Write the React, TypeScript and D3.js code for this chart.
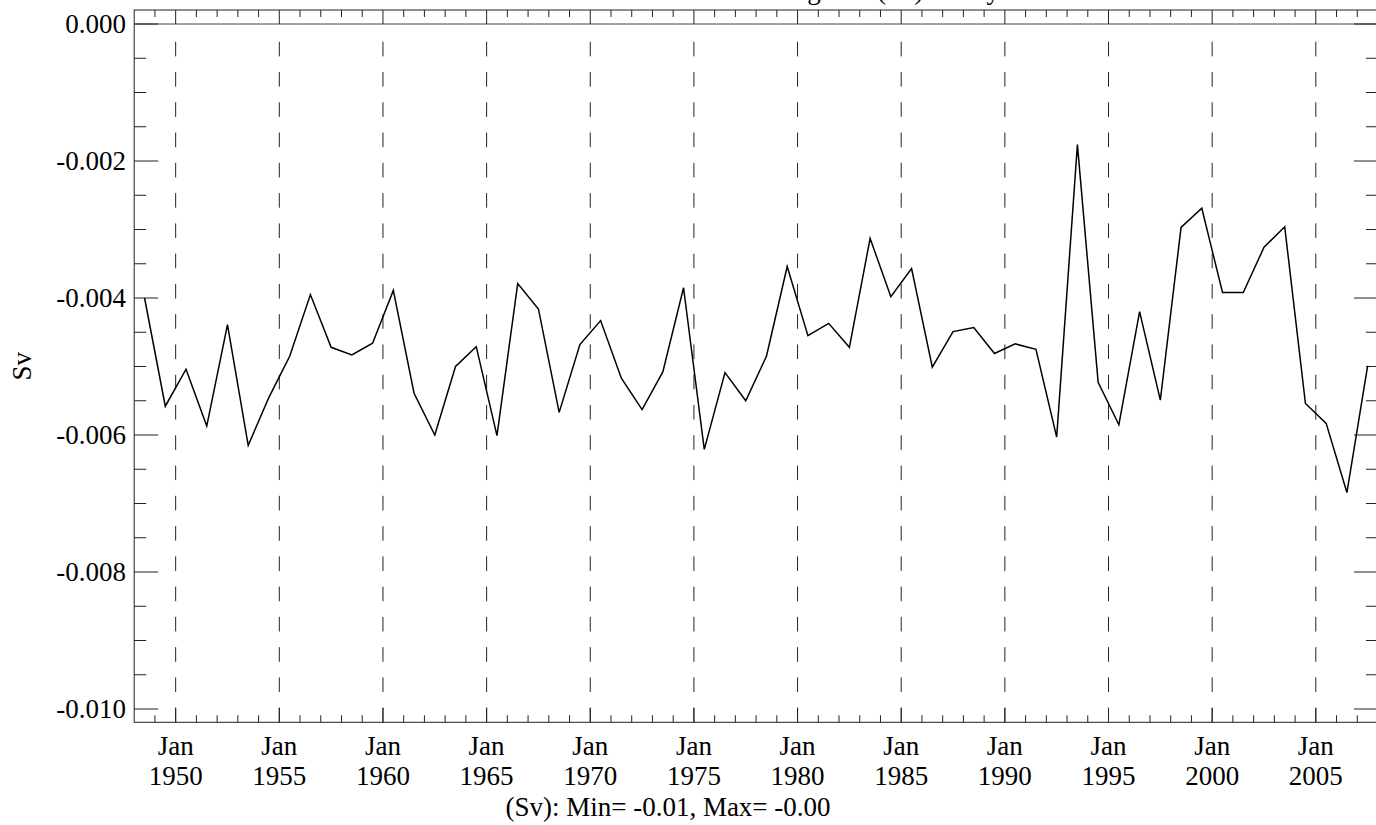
import React from "react";
import * as d3 from "d3";

const years = [
  1948, 1949, 1950, 1951, 1952, 1953, 1954, 1955, 1956, 1957,
  1958, 1959, 1960, 1961, 1962, 1963, 1964, 1965, 1966, 1967,
  1968, 1969, 1970, 1971, 1972, 1973, 1974, 1975, 1976, 1977,
  1978, 1979, 1980, 1981, 1982, 1983, 1984, 1985, 1986, 1987,
  1988, 1989, 1990, 1991, 1992, 1993, 1994, 1995, 1996, 1997,
  1998, 1999, 2000, 2001, 2002, 2003, 2004, 2005, 2006, 2007,
];

const values = [
  -0.00400, -0.00558, -0.00504, -0.00587, -0.00439, -0.00615, -0.00545, -0.00485, -0.00395, -0.00472,
  -0.00483, -0.00466, -0.00389, -0.00539, -0.00600, -0.00500, -0.00471, -0.00601, -0.00379, -0.00416,
  -0.00567, -0.00468, -0.00433, -0.00517, -0.00563, -0.00508, -0.00385, -0.00621, -0.00509, -0.00550,
  -0.00485, -0.00354, -0.00455, -0.00437, -0.00472, -0.00313, -0.00398, -0.00357, -0.00501, -0.00449,
  -0.00443, -0.00481, -0.00467, -0.00475, -0.00603, -0.00176, -0.00523, -0.00585, -0.00420, -0.00549,
  -0.00297, -0.00269, -0.00392, -0.00392, -0.00326, -0.00296, -0.00554, -0.00583, -0.00684, -0.00499,
];

const majorYears = [1950, 1955, 1960, 1965, 1970, 1975, 1980, 1985, 1990, 1995, 2000, 2005];
const minorYears = [
  1949, 1951, 1952, 1953, 1954, 1956, 1957, 1958, 1959, 1961, 1962, 1963, 1964,
  1966, 1967, 1968, 1969, 1971, 1972, 1973, 1974, 1976, 1977, 1978, 1979, 1981,
  1982, 1983, 1984, 1986, 1987, 1988, 1989, 1991, 1992, 1993, 1994, 1996, 1997,
  1998, 1999, 2001, 2002, 2003, 2004, 2006, 2007,
];
const monthLabel = "Jan";

const yMajor = [0, -0.002, -0.004, -0.006, -0.008, -0.01];
const yMajorLabels = ["0.000", "-0.002", "-0.004", "-0.006", "-0.008", "-0.010"];
const yMinor = [-0.0005, -0.001, -0.0015, -0.0025, -0.003, -0.0035, -0.0045, -0.005, -0.0055,
  -0.0065, -0.007, -0.0075, -0.0085, -0.009, -0.0095];

const titleText = "Volume Convergence (Sv) Yearly";
const yTitle = "Sv";
const caption = "(Sv): Min= -0.01, Max= -0.00";

const W = 1376;
const H = 825;
const L = 134.2;
const R = 1378;
const T = 10;
const B = 722.3;
const FONT = "'Liberation Serif', 'Times New Roman', serif";

export default function App() {
  const x = d3.scaleLinear().domain([1948, 2008]).range([L, R]);
  const y = d3.scaleLinear().domain([0, -0.01]).range([24, 709]);

  const line = d3
    .line<number>()
    .x((_, i) => x(years[i] + 0.5))
    .y((d) => y(d));

  const fs = 27;
  return (
    <svg
      width={W}
      height={H}
      style={{ position: "absolute", left: 0, top: 0, background: "#fff" }}
      fontFamily={FONT}
    >
      <rect x={0} y={0} width={W} height={H} fill="#fff" />
      {/* dashed vertical grid */}
      {majorYears.map((yr) => (
        <line
          key={"g" + yr}
          x1={x(yr)}
          x2={x(yr)}
          y1={B}
          y2={27}
          stroke="#222"
          strokeWidth={1}
          strokeDasharray="14.6 15.67"
        />
      ))}
      {/* zero line */}
      <line x1={L} x2={R} y1={y(0)} y2={y(0)} stroke="#444" strokeWidth={1} />
      {/* frame */}
      <rect x={L} y={T} width={R - L} height={B - T} fill="none" stroke="#222" strokeWidth={1} />
      {/* x ticks */}
      {majorYears.map((yr) => (
        <g key={"mx" + yr}>
          <line x1={x(yr)} x2={x(yr)} y1={B} y2={B - 14.5} stroke="#222" />
          <line x1={x(yr)} x2={x(yr)} y1={T} y2={T + 14} stroke="#222" />
          <text x={x(yr)} y={755} textAnchor="middle" fontSize={fs} fill="#000">
            {monthLabel}
          </text>
          <text x={x(yr)} y={785} textAnchor="middle" fontSize={fs} fill="#000">
            {yr}
          </text>
        </g>
      ))}
      {minorYears.map((yr) => (
        <g key={"nx" + yr}>
          <line x1={x(yr)} x2={x(yr)} y1={B} y2={B - 7} stroke="#222" />
          <line x1={x(yr)} x2={x(yr)} y1={T} y2={T + 7} stroke="#222" />
        </g>
      ))}
      {/* y ticks */}
      {yMajor.map((v, i) => (
        <g key={"my" + i}>
          <line x1={L} x2={L + 24} y1={y(v)} y2={y(v)} stroke="#222" />
          <line x1={R} x2={R - 24} y1={y(v)} y2={y(v)} stroke="#222" />
          <text x={126} y={y(v) + 9} textAnchor="end" fontSize={fs} fill="#000">
            {yMajorLabels[i]}
          </text>
        </g>
      ))}
      {yMinor.map((v, i) => (
        <g key={"ny" + i}>
          <line x1={L} x2={L + 12} y1={y(v)} y2={y(v)} stroke="#222" />
          <line x1={R} x2={R - 12} y1={y(v)} y2={y(v)} stroke="#222" />
        </g>
      ))}
      {/* data */}
      <path d={line(values) || ""} fill="none" stroke="#000" strokeWidth={1.5} strokeLinejoin="miter" />
      {/* titles */}
      <text x={1000} y={-1} textAnchor="end" fontSize={fs} fill="#000">
        {titleText}
      </text>
      <text
        transform={`translate(31, ${(T + B) / 2}) rotate(-90)`}
        textAnchor="middle"
        fontSize={fs}
        fill="#000"
      >
        {yTitle}
      </text>
      <text x={668} y={816} textAnchor="middle" fontSize={fs} fill="#000">
        {caption}
      </text>
    </svg>
  );
}
